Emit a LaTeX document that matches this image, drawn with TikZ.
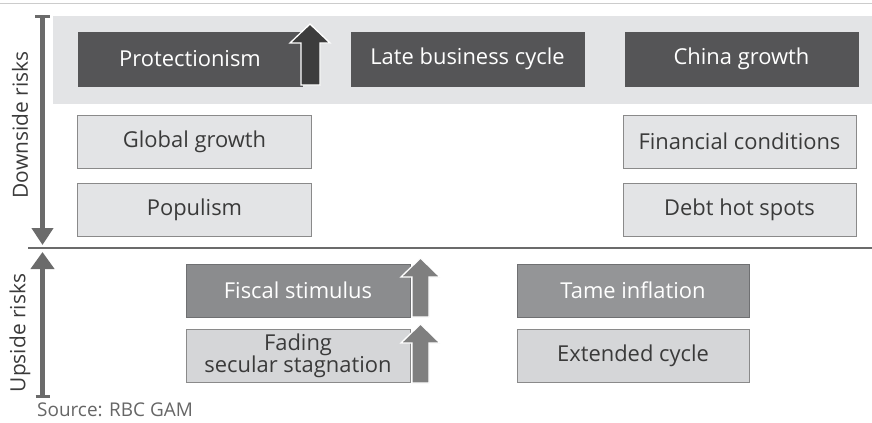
\documentclass[tikz,border=0pt]{standalone}
\usepackage{fontspec}
\setmainfont{Open Sans}
\usetikzlibrary{arrows.meta}
\definecolor{band}{HTML}{E3E4E6}
\definecolor{darkbox}{HTML}{555557}
\definecolor{midbox}{HTML}{8B8C8E}
\definecolor{midboxb}{HTML}{949597}
\definecolor{lightbox}{HTML}{E3E4E6}
\definecolor{paleb}{HTML}{D5D6D8}
\definecolor{edgegray}{HTML}{8A8A8A}
\definecolor{txt}{HTML}{3A3A3A}
\definecolor{axis}{HTML}{6B6B6B}
\definecolor{toparrow}{HTML}{3D3D3D}
\definecolor{uparrow}{HTML}{7F7F7F}
\tikzset{
  lbl/.style={font=\fontsize{22}{22}\selectfont, inner sep=0pt, align=center},
  darkstyle/.style={lbl, fill=darkbox, draw=darkbox, text=white, minimum height=54bp},
  midstyle/.style={lbl, fill=midbox, draw=midbox!80!black, text=white, minimum height=53bp},
  lightstyle/.style={lbl, fill=lightbox, draw=edgegray, line width=1bp, text=txt, minimum height=53bp},
  palestyle/.style={lbl, fill=paleb, draw=edgegray, line width=1bp, text=txt, minimum height=53bp},
  blockup/.style={line width=1.3bp, draw=white, line join=miter},
  axisarrow/.style={draw=axis, line width=5bp},
  sidelbl/.style={font=\fontsize{21}{22}\selectfont, text=txt, rotate=90, inner sep=0pt},
}
\begin{document}
\begin{tikzpicture}[x=1bp,y=-1bp]
\useasboundingbox (0,0) rectangle (872,422);
% top rule and band
\draw[draw=black!20, line width=1.5bp] (0,3.5) -- (872,3.5);
\fill[band] (53,16) rectangle (872,104);
% downside boxes
\node[darkstyle, minimum width=224bp] (prot) at (190,59) {Protectionism};
\node[darkstyle, minimum width=233bp] (late) at (467.5,59) {Late business cycle};
\node[darkstyle, minimum width=233bp] (china) at (741.5,59) {China growth};
\node[lightstyle, minimum width=233bp] (glob) at (194.5,141.5) {Global growth};
\node[lightstyle, minimum width=233bp] (popu) at (194.5,209.5) {Populism};
\node[lightstyle, minimum width=233bp] (fin) at (739.5,141.5) {Financial conditions};
\node[lightstyle, minimum width=233bp] (debt) at (739.5,209.5) {Debt hot spots};
% upside boxes
\node[midstyle, minimum width=224bp] (fisc) at (298,290.5) {Fiscal stimulus};
\node[palestyle, minimum width=224bp, font=\fontsize{22}{22}\selectfont] (fade) at (298,355.5) {Fading\\secular stagnation};
\node[midstyle, fill=midboxb, minimum width=232bp] (tame) at (633,290.5) {Tame inflation};
\node[palestyle, minimum width=232bp] (ext) at (633,355.5) {Extended cycle};
% block arrows
\filldraw[blockup, fill=toparrow] (301,85) -- (301,43) -- (290,43) -- (310,24) -- (330,43) -- (320,43) -- (320,85) -- cycle;
\filldraw[blockup, fill=uparrow] (412,317) -- (412,277) -- (401,277) -- (420.5,258) -- (440,277) -- (429,277) -- (429,317) -- cycle;
\filldraw[blockup, fill=uparrow] (412,383) -- (412,343) -- (401,343) -- (420.5,324) -- (440,343) -- (429,343) -- (429,383) -- cycle;
% separator
\coordinate (sepL) at (28,248);
\coordinate (sepR) at (872,248);
\draw[draw=axis, line width=2bp] (sepL) -- (sepR);
% side axes
\coordinate (dTop) at (42.5,16.5);
\coordinate (dBot) at (42.5,245);
\coordinate (uTop) at (42.5,252);
\coordinate (uBot) at (42.5,396);
\draw[axisarrow, -{Triangle[width=21bp,length=17bp]}] (dTop) -- (dBot);
\draw[draw=axis, line width=3bp] ([xshift=-7.5bp]dTop) -- ([xshift=7.5bp]dTop);
\draw[axisarrow, -{Triangle[width=23bp,length=17bp]}] (uBot) -- (uTop);
\draw[draw=axis, line width=3bp] ([xshift=-7bp]uBot) -- ([xshift=7bp]uBot);
\node[sidelbl] (down) at (20,125) {Downside risks};
\node[sidelbl] (up) at (20,333) {Upside risks};
% source
\node[font=\fontsize{19}{20}\selectfont, text=black!60, anchor=west, inner sep=0pt] (src) at (37,410) {Source: RBC GAM};
\end{tikzpicture}
\end{document}
